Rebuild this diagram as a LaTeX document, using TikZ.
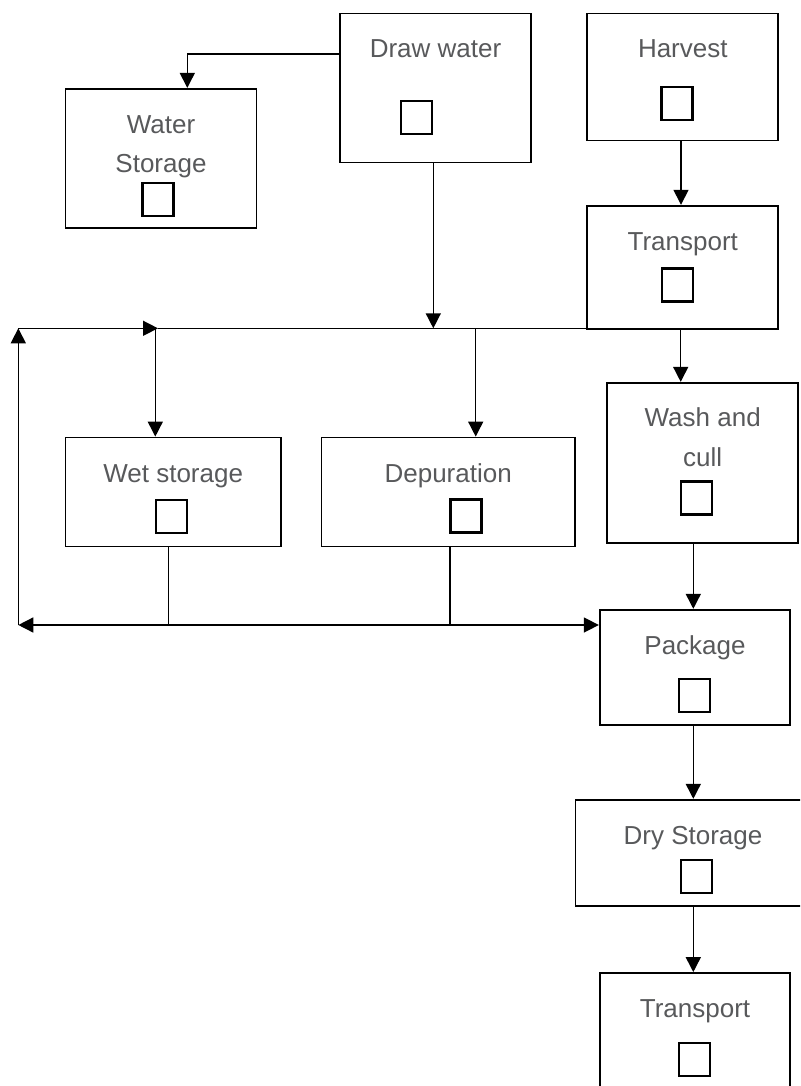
\documentclass[tikz,border=0pt]{standalone}
\usepackage{fontspec}
\setmainfont{Liberation Sans}
\usetikzlibrary{arrows.meta}

\definecolor{txtgray}{RGB}{88,89,91}

\begin{document}
\begin{tikzpicture}[x=1pt,y=1pt,yscale=-1,xscale=1,
  stage/.style={draw, line width=1.8pt, inner sep=0pt},
  tick/.style={draw, line width=2.4pt, minimum width=31pt, minimum height=33pt, inner sep=0pt},
  lbl/.style={font=\fontsize{26}{31}\selectfont, text=txtgray, inner sep=0pt, anchor=base},
  flow/.style={line width=1.5pt},
  arr/.style={flow, -{Triangle[length=15pt,width=15pt]}},
  biarr/.style={flow, {Triangle[length=15pt,width=15pt]}-{Triangle[length=15pt,width=15pt]}}]
\useasboundingbox (0,0) rectangle (800,1086);
\clip (0,0) rectangle (800,1086);

%Shape: Rectangle [stages]
\node[stage, minimum width=191pt, minimum height=149pt] (dw) at (435.5,88) {};
\node[stage, minimum width=191pt, minimum height=127pt] (hv) at (682.8,77) {};
\node[stage, minimum width=191pt, minimum height=139pt] (ws) at (161,158.3) {};
\node[stage, minimum width=191pt, minimum height=123pt] (tr1) at (682.8,267.2) {};
\node[stage, minimum width=215.5pt, minimum height=109pt] (wet) at (173.2,492) {};
\node[stage, minimum width=253.5pt, minimum height=109pt] (dep) at (448.2,492) {};
\node[stage, minimum width=191pt, minimum height=160.5pt] (wc) at (702.7,463) {};
\node[stage, minimum width=190.5pt, minimum height=115.5pt] (pk) at (695,667.5) {};
\node[stage, minimum width=235pt, minimum height=106.5pt] (dry) at (693,853) {};
\node[stage, minimum width=190.5pt, minimum height=134pt] (tr2) at (695,1040) {};

%Shape: Square [check boxes]
\node[tick] (dw-c) at (416.3,117.5) {};
\node[tick] (hv-c) at (677,103.8) {};
\node[tick] (ws-c) at (158,199.5) {};
\node[tick] (tr1-c) at (677.5,284.8) {};
\node[tick] (wet-c) at (171.5,516.5) {};
\node[tick] (dep-c) at (466,516) {};
\node[tick] (wc-c) at (696.5,498) {};
\node[tick] (pk-c) at (694.5,695.5) {};
\node[tick] (dry-c) at (696.7,876.7) {};
\node[tick] (tr2-c) at (694.5,1059.7) {};

% Text Node
\node[lbl] (dw-t) at (435.5,58) {Draw water};
\node[lbl] (hv-t) at (682.8,58) {Harvest};
\node[lbl] (ws-t1) at (161,133.3) {Water};
\node[lbl] (ws-t2) at (161,172.7) {Storage};
\node[lbl] (tr1-t) at (682.8,250) {Transport};
\node[lbl] (wet-t) at (173.2,482) {Wet storage};
\node[lbl] (dep-t) at (448.2,482) {Depuration};
\node[lbl] (wc-t1) at (702.7,426.7) {Wash and};
\node[lbl] (wc-t2) at (702.7,466.7) {cull};
\node[lbl] (pk-t) at (695,654) {Package};
\node[lbl] (dry-t) at (693,844) {Dry Storage};
\node[lbl] (tr2-t) at (695,1017) {Transport};

%Connector corners
\coordinate (topL) at (18.3,328.3);
\coordinate (botL) at (18.3,625);
\coordinate (feed) at (158,328.3);

%Connectors
\draw[arr] (dw.west |- 0,54) -| (ws.north -| 187.3,0);
\draw[arr] (hv.south -| 681,0) -- (tr1.north -| 681,0);
\draw[arr] (dw.south -| 433.3,0) -- (topL -| 433.3,0);
\draw[flow] (feed) -- (topL -| tr1.west);
\draw[arr] (botL) -- (topL);
\draw[arr] (topL) -- (feed);
\draw[arr] (feed -| 155.3,0) -- (wet.north -| 155.3,0);
\draw[arr] (topL -| 475.7,0) -- (dep.north -| 475.7,0);
\draw[flow] (wet.south -| 168.3,0) -- (botL -| 168.3,0);
\draw[flow] (dep.south -| 450,0) -- (botL -| 450,0);
\draw[biarr] (botL) -- (botL -| pk.west);
\draw[arr] (tr1.south -| 680.7,0) -- (wc.north -| 680.7,0);
\draw[arr] (wc.south -| 693.3,0) -- (pk.north -| 693.3,0);
\draw[arr] (pk.south -| 693.3,0) -- (dry.north -| 693.3,0);
\draw[arr] (dry.south -| 693.3,0) -- (tr2.north -| 693.3,0);

\end{tikzpicture}
\end{document}
